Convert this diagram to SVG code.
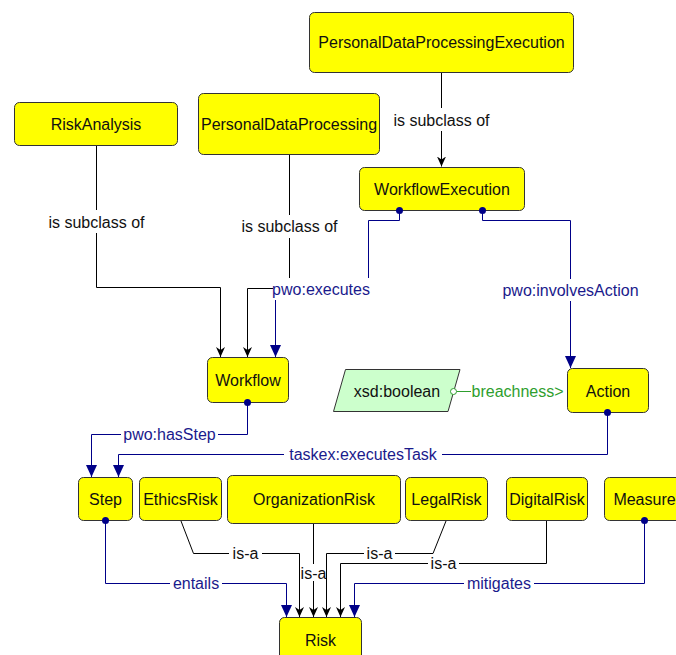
<svg xmlns="http://www.w3.org/2000/svg" width="676" height="655" viewBox="0 0 676 655">
<style>
.n rect,.n polygon{fill:#ffff00;stroke:#333;stroke-width:1}
.n text{font-family:"Liberation Sans",Arial,sans-serif;font-size:16px;fill:#111;text-anchor:middle}
.lit polygon{fill:#ccffcc}
.e{fill:none;stroke-width:1}
.k{stroke:#000}
.b{stroke:#000088}
.g{stroke:#2e9e2e}
.lb{fill:#fff;stroke:none}
.t{font-family:"Liberation Sans",Arial,sans-serif;font-size:16px;text-anchor:middle}
.tk{fill:#111}
.tb{fill:#1a1a8c}
.tg{fill:#2e9e2e;text-anchor:start}
.dot{fill:#000088}
</style>
<defs>
<marker id="ak" viewBox="0 0 10 9" refX="10" refY="4.5" markerWidth="10" markerHeight="9" markerUnits="userSpaceOnUse" orient="auto"><path d="M0,0 L10,4.5 L0,9 L3,4.5 Z" fill="#000"/></marker>
<marker id="ab" viewBox="0 0 12 11" refX="12" refY="5.5" markerWidth="12" markerHeight="11" markerUnits="userSpaceOnUse" orient="auto"><path d="M0,0 L12,5.5 L0,11 Z" fill="#000088"/></marker>
</defs>
<rect width="676" height="655" fill="#fff"/>
<g id="PersonalDataProcessingExecution" class="n"><rect x="309.5" y="12.5" width="264" height="60" rx="5"/><text x="441.5" y="48">PersonalDataProcessingExecution</text></g>
<g id="WorkflowExecution" class="n"><rect x="359.5" y="167.5" width="165" height="43" rx="5"/><text x="442" y="195">WorkflowExecution</text></g>
<g id="RiskAnalysis" class="n"><rect x="14.5" y="102.5" width="163" height="43" rx="5"/><text x="96" y="130">RiskAnalysis</text></g>
<g id="PersonalDataProcessing" class="n"><rect x="198.5" y="93.5" width="181" height="61" rx="5"/><text x="289" y="130">PersonalDataProcessing</text></g>
<g id="Workflow" class="n"><rect x="207.5" y="357.5" width="81" height="45" rx="5"/><text x="248" y="386">Workflow</text></g>
<g id="xsd_boolean" class="n lit"><polygon points="345.5,369.5 460,369.5 448,411.5 333.5,411.5"/><text x="397" y="397">xsd:boolean</text></g>
<g id="Action" class="n"><rect x="567.5" y="368.5" width="81" height="44" rx="5"/><text x="608" y="397">Action</text></g>
<g id="Step" class="n"><rect x="78.5" y="477.5" width="54" height="43" rx="5"/><text x="105.5" y="505">Step</text></g>
<g id="EthicsRisk" class="n"><rect x="139.5" y="477.5" width="82" height="43" rx="5"/><text x="180.5" y="505">EthicsRisk</text></g>
<g id="OrganizationRisk" class="n"><rect x="227.5" y="475.5" width="173" height="48" rx="5"/><text x="314" y="505">OrganizationRisk</text></g>
<g id="LegalRisk" class="n"><rect x="405.5" y="477.5" width="82" height="43" rx="5"/><text x="446.5" y="505">LegalRisk</text></g>
<g id="DigitalRisk" class="n"><rect x="506.5" y="477.5" width="81" height="43" rx="5"/><text x="547" y="505">DigitalRisk</text></g>
<g id="Measure" class="n"><rect x="604.5" y="477.5" width="80" height="43" rx="5"/><text x="644.5" y="505">Measure</text></g>
<g id="Risk" class="n"><rect x="279.5" y="617.5" width="82" height="46" rx="5"/><text x="320.5" y="646">Risk</text></g>
<g id="connectors">
<path class="e k" d="M441.5,73 V166.5" marker-end="url(#ak)"/>
<rect class="lb" x="391" y="108" width="101" height="23"/>
<text class="t tk" x="441.5" y="125.5">is subclass of</text>
<path class="e k" d="M96.5,146 V287.5 H220.5 V357" marker-end="url(#ak)"/>
<rect class="lb" x="46" y="210" width="101" height="23"/>
<text class="t tk" x="96.5" y="227.5">is subclass of</text>
<path class="e k" d="M289.5,155 V288.5 H247.5 V357" marker-end="url(#ak)"/>
<rect class="lb" x="239" y="215" width="101" height="23"/>
<text class="t tk" x="289.5" y="232">is subclass of</text>
<path class="e b" d="M399.5,211 V220.5 H368.5 V289.5 H275.5 V357" marker-end="url(#ab)"/>
<circle class="dot" cx="399.5" cy="210.5" r="3.5"/>
<rect class="lb" x="273" y="278" width="96" height="22"/>
<text class="t tb" x="321" y="294.5">pwo:executes</text>
<path class="e b" d="M482.5,211 V220.5 H570.5 V368" marker-end="url(#ab)"/>
<circle class="dot" cx="482.5" cy="210.5" r="3.5"/>
<rect class="lb" x="500" y="279" width="141" height="22"/>
<text class="t tb" x="570.5" y="296">pwo:involvesAction</text>
<path class="e g" d="M456.5,391.5 H471"/>
<circle cx="453.5" cy="391.5" r="3" fill="#fff" stroke="#2e9e2e" stroke-width="1"/>
<text class="t tg" x="471.5" y="397">breachness&gt;</text>
<path class="e b" d="M247.5,403 V434.5 H91.5 V477" marker-end="url(#ab)"/>
<circle class="dot" cx="247.5" cy="402.5" r="3.5"/>
<rect class="lb" x="121" y="426" width="97" height="17"/>
<text class="t tb" x="169.5" y="440">pwo:hasStep</text>
<path class="e b" d="M607.5,413 V454.5 H118.5 V477" marker-end="url(#ab)"/>
<circle class="dot" cx="607.5" cy="412.5" r="3.5"/>
<rect class="lb" x="284" y="446" width="158" height="17"/>
<text class="t tb" x="363" y="460">taskex:executesTask</text>
<path class="e b" d="M105.5,521 V583.5 H286.5 V617" marker-end="url(#ab)"/>
<circle class="dot" cx="105.5" cy="520.5" r="3.5"/>
<rect class="lb" x="170" y="576" width="52" height="16"/>
<text class="t tb" x="196" y="589">entails</text>
<path class="e b" d="M644.5,521 V583.5 H354.5 V617" marker-end="url(#ab)"/>
<circle class="dot" cx="644.5" cy="520.5" r="3.5"/>
<rect class="lb" x="464" y="576" width="70" height="16"/>
<text class="t tb" x="499" y="589">mitigates</text>
<path class="e k" d="M181,521 L193.5,553.5 H299.5 V617" marker-end="url(#ak)"/>
<rect class="lb" x="229" y="546" width="33" height="15"/>
<text class="t tk" x="245.5" y="559">is-a</text>
<path class="e k" d="M313.5,524 V617" marker-end="url(#ak)"/>
<rect class="lb" x="301" y="564" width="24" height="17"/>
<text class="t tk" x="313.5" y="579">is-a</text>
<path class="e k" d="M446,521 L433,553.5 H326.5 V617" marker-end="url(#ak)"/>
<rect class="lb" x="364" y="546" width="31" height="15"/>
<text class="t tk" x="379.5" y="559">is-a</text>
<path class="e k" d="M546.5,521 V563.5 H340.5 V617" marker-end="url(#ak)"/>
<rect class="lb" x="428" y="556" width="31" height="15"/>
<text class="t tk" x="443.5" y="569">is-a</text>
</g>
</svg>
